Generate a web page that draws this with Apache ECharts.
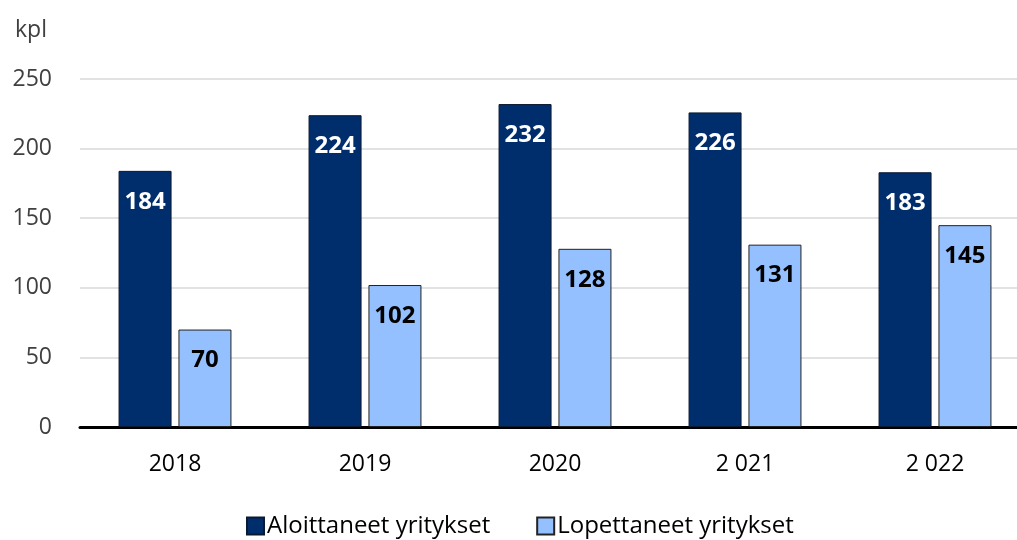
<!DOCTYPE html>
<html>
<head>
<meta charset="utf-8">
<script src="https://cdn.jsdelivr.net/npm/echarts@6/dist/echarts.min.js"></script>
<style>
  html, body { margin: 0; padding: 0; background: #fff; overflow: hidden; }
  /* kaavio on hieman ikkunaa leveämpi, jotta akseli jatkuu reunaan asti */
  #chart { width: 1030px; height: 540px; }
</style>
</head>
<body>
<div id="chart"></div>
<script>
// vuodet ja yritysten määrät
const years = ['2018', '2019', '2020', '2 021', '2 022'];
const aloittaneet = [184, 224, 232, 226, 183];
const lopettaneet = [70, 102, 128, 131, 145];
const yTicks = [0, 50, 100, 150, 200, 250];

const font = '"Open Sans", "Noto Sans", sans-serif';

let myChart = echarts.init(document.getElementById('chart'));

let option = {
  animation: false,
  textStyle: { fontFamily: font },
  title: {
    text: 'kpl',
    left: 10,
    top: 14,
    textStyle: { fontSize: 23, fontWeight: 'normal', color: '#404040', fontFamily: font }
  },
  legend: {
    bottom: -3,
    left: 241,
    icon: 'rect',
    itemWidth: 17,
    itemHeight: 17,
    itemGap: 46,
    textStyle: { fontSize: 24, color: '#000', fontFamily: font, padding: [0, 0, 0, -2] },
    data: ['Aloittaneet yritykset', 'Lopettaneet yritykset']
  },
  grid: { left: 80, right: 0, top: 79, bottom: 113 },
  xAxis: {
    type: 'category',
    data: years,
    axisLine: { lineStyle: { color: '#000', width: 3 } },
    axisTick: { show: false },
    axisLabel: { fontSize: 23, color: '#000', margin: 26, fontFamily: font }
  },
  yAxis: {
    type: 'value',
    min: yTicks[0],
    max: yTicks[yTicks.length - 1],
    interval: 50,
    axisLine: { show: false },
    axisTick: { show: false },
    splitLine: { lineStyle: { color: '#d9d9d9', width: 1.5 } },
    axisLabel: { fontSize: 23, color: '#404040', margin: 28, fontFamily: font }
  },
  series: [
    {
      name: 'Aloittaneet yritykset',
      type: 'bar',
      data: aloittaneet,
      barWidth: 53,
      barGap: '13%',
      itemStyle: { color: '#002d6b', borderColor: '#0a1a33', borderWidth: 1 },
      label: {
        show: true,
        position: 'insideTop',
        distance: 19,
        color: '#fff',
        fontSize: 24,
        fontWeight: 'bold',
        fontFamily: font
      }
    },
    {
      name: 'Lopettaneet yritykset',
      type: 'bar',
      data: lopettaneet,
      barWidth: 53,
      itemStyle: { color: '#94c0ff', borderColor: '#222', borderWidth: 1 },
      label: {
        show: true,
        position: 'insideTop',
        distance: 19,
        color: '#000',
        fontSize: 24,
        fontWeight: 'bold',
        fontFamily: font
      }
    }
  ]
};

option && myChart.setOption(option);
</script>
</body>
</html>
